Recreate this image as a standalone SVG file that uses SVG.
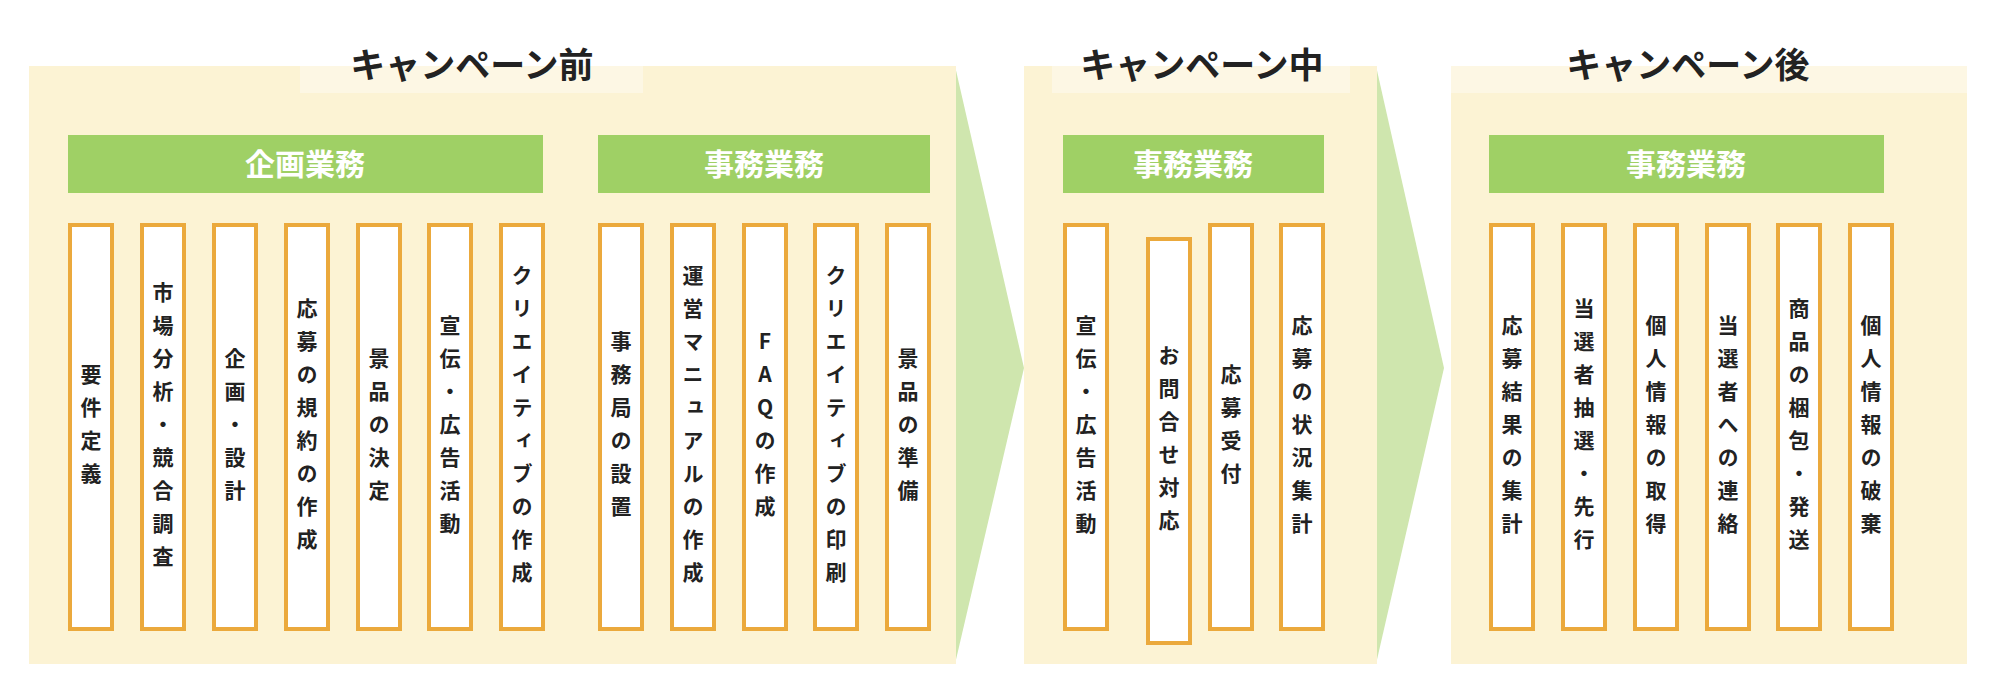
<svg xmlns="http://www.w3.org/2000/svg" width="1999" height="681" viewBox="0 0 1999 681">
<style>
.panel{fill:#fcf3d4}
.tab{fill:#fdf7e4}
.arrow{fill:#cfe6ae}
.hdr{fill:#9fd065}
.title{font-family:"Noto Sans CJK JP","Noto Sans",sans-serif;font-weight:bold;font-size:35px;fill:#222;text-anchor:middle}
.htxt{font-family:"Noto Sans CJK JP","Noto Sans",sans-serif;font-weight:bold;font-size:30px;fill:#fff;text-anchor:middle}
.box{fill:#fff;stroke:#eba93c;stroke-width:4}
.vt{font-family:"Noto Sans CJK JP","Noto Sans",sans-serif;font-weight:bold;font-size:21px;fill:#222;text-anchor:middle;writing-mode:vertical-rl;text-orientation:upright;letter-spacing:12px}
</style>
<g id="connectors">
<polygon class="arrow" points="955,66 1024,368 955,664"/>
<polygon class="arrow" points="1376,66 1444,368 1376,664"/>
</g>
<g id="phase-before">
<rect class="panel" x="29" y="66" width="927" height="598"/>
<rect class="tab" x="300" y="66" width="343" height="27"/>
<text class="title" x="472" y="78">キャンペーン前</text>
</g>
<g id="phase-during">
<rect class="panel" x="1024" y="66" width="353" height="598"/>
<rect class="tab" x="1052" y="66" width="298" height="27"/>
<text class="title" x="1202" y="78">キャンペーン中</text>
</g>
<g id="phase-after">
<rect class="panel" x="1451" y="66" width="516" height="598"/>
<rect class="tab" x="1451" y="66" width="516" height="27"/>
<text class="title" x="1688" y="78">キャンペーン後</text>
</g>
<g id="hdr-plan"><rect class="hdr" x="68" y="135" width="475" height="58"/><text class="htxt" x="305" y="175">企画業務</text></g>
<g id="hdr-office1"><rect class="hdr" x="598" y="135" width="332" height="58"/><text class="htxt" x="764" y="175">事務業務</text></g>
<g id="hdr-office2"><rect class="hdr" x="1063" y="135" width="261" height="58"/><text class="htxt" x="1193" y="175">事務業務</text></g>
<g id="hdr-office3"><rect class="hdr" x="1489" y="135" width="395" height="58"/><text class="htxt" x="1686" y="175">事務業務</text></g>
<g id="b1"><rect class="box" x="70" y="225" width="42" height="404"/><text class="vt" x="91" y="430">要件定義</text></g>
<g id="b2"><rect class="box" x="142" y="225" width="42" height="404"/><text class="vt" x="163" y="430">市場分析・競合調査</text></g>
<g id="b3"><rect class="box" x="214" y="225" width="42" height="404"/><text class="vt" x="235" y="430">企画・設計</text></g>
<g id="b4"><rect class="box" x="286" y="225" width="42" height="404"/><text class="vt" x="307" y="430">応募の規約の作成</text></g>
<g id="b5"><rect class="box" x="358" y="225" width="42" height="404"/><text class="vt" x="379" y="430">景品の決定</text></g>
<g id="b6"><rect class="box" x="429" y="225" width="42" height="404"/><text class="vt" x="450" y="430">宣伝・広告活動</text></g>
<g id="b7"><rect class="box" x="501" y="225" width="42" height="404"/><text class="vt" x="522" y="430">クリエイティブの作成</text></g>
<g id="b8"><rect class="box" x="600" y="225" width="42" height="404"/><text class="vt" x="621" y="430">事務局の設置</text></g>
<g id="b9"><rect class="box" x="672" y="225" width="42" height="404"/><text class="vt" x="693" y="430">運営マニュアルの作成</text></g>
<g id="b10"><rect class="box" x="744" y="225" width="42" height="404"/><text class="vt" x="765" y="430">FAQの作成</text></g>
<g id="b11"><rect class="box" x="815" y="225" width="42" height="404"/><text class="vt" x="836" y="430">クリエイティブの印刷</text></g>
<g id="b12"><rect class="box" x="887" y="225" width="42" height="404"/><text class="vt" x="908" y="430">景品の準備</text></g>
<g id="b13"><rect class="box" x="1065" y="225" width="42" height="404"/><text class="vt" x="1086" y="430">宣伝・広告活動</text></g>
<g id="b14"><rect class="box" x="1148" y="239" width="42" height="404"/><text class="vt" x="1169" y="444">お問合せ対応</text></g>
<g id="b15"><rect class="box" x="1210" y="225" width="42" height="404"/><text class="vt" x="1231" y="430">応募受付</text></g>
<g id="b16"><rect class="box" x="1281" y="225" width="42" height="404"/><text class="vt" x="1302" y="430">応募の状況集計</text></g>
<g id="b17"><rect class="box" x="1491" y="225" width="42" height="404"/><text class="vt" x="1512" y="430">応募結果の集計</text></g>
<g id="b18"><rect class="box" x="1563" y="225" width="42" height="404"/><text class="vt" x="1584" y="430">当選者抽選・先行</text></g>
<g id="b19"><rect class="box" x="1635" y="225" width="42" height="404"/><text class="vt" x="1656" y="430">個人情報の取得</text></g>
<g id="b20"><rect class="box" x="1707" y="225" width="42" height="404"/><text class="vt" x="1728" y="430">当選者への連絡</text></g>
<g id="b21"><rect class="box" x="1778" y="225" width="42" height="404"/><text class="vt" x="1799" y="430">商品の梱包・発送</text></g>
<g id="b22"><rect class="box" x="1850" y="225" width="42" height="404"/><text class="vt" x="1871" y="430">個人情報の破棄</text></g>
</svg>
